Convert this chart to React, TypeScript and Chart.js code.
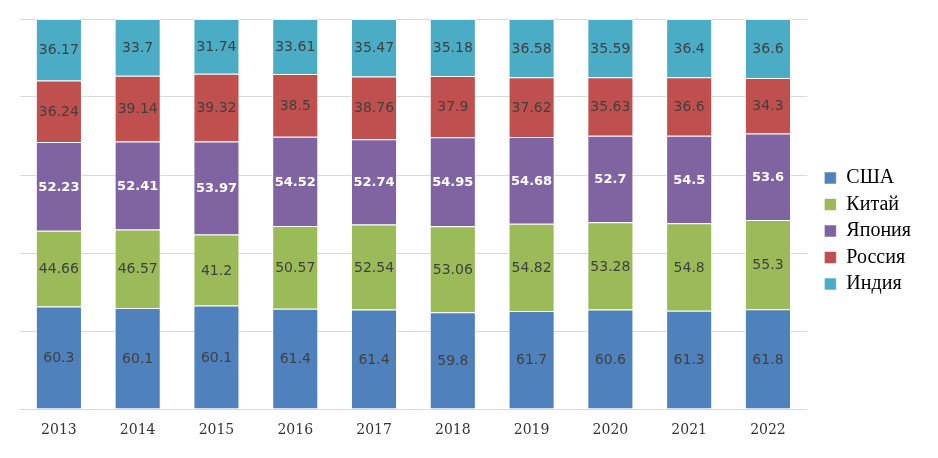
import React, { useEffect, useRef } from "react";
import { Chart, registerables } from "chart.js";

Chart.register(...registerables);

const years = ["2013", "2014", "2015", "2016", "2017", "2018", "2019", "2020", "2021", "2022"];
const seriesNames = ["США", "Китай", "Япония", "Россия", "Индия"];
const usa = [60.3, 60.1, 60.1, 61.4, 61.4, 59.8, 61.7, 60.6, 61.3, 61.8];
const china = [44.66, 46.57, 41.2, 50.57, 52.54, 53.06, 54.82, 53.28, 54.8, 55.3];
const japan = [52.23, 52.41, 53.97, 54.52, 52.74, 54.95, 54.68, 52.7, 54.5, 53.6];
const russia = [36.24, 39.14, 39.32, 38.5, 38.76, 37.9, 37.62, 35.63, 36.6, 34.3];
const india = [36.17, 33.7, 31.74, 33.61, 35.47, 35.18, 36.58, 35.59, 36.4, 36.6];
const colors = ["#4F81BD", "#9BBB59", "#8064A2", "#C0504D", "#4BACC6"];
const yTicks = [0, 20, 40, 60, 80, 100];

const rawSeries = [usa, china, japan, russia, india];

const labelPlugin = {
  id: "segLabels",
  afterDatasetsDraw(chart: any) {
    const ctx = chart.ctx;
    ctx.save();
    ctx.textAlign = "center";
    ctx.textBaseline = "middle";
    chart.data.datasets.forEach((ds: any, di: number) => {
      const meta = chart.getDatasetMeta(di);
      meta.data.forEach((el: any, i: number) => {
        const raw = ds.rawValues[i];
        const cy = (el.y + el.base) / 2;
        if (di === 2) {
          ctx.font = "bold 13px 'DejaVu Sans'";
          ctx.fillStyle = "#ffffff";
        } else {
          ctx.font = "14px 'DejaVu Sans'";
          ctx.fillStyle = "#404040";
        }
        ctx.fillText(String(raw), el.x, cy + 1);
      });
    });
    ctx.restore();
  },
};

export default function App() {
  const ref = useRef<HTMLCanvasElement | null>(null);
  useEffect(() => {
    if (!ref.current) return;
    const totals = years.map((_, i) => rawSeries.reduce((s, arr) => s + arr[i], 0));
    const datasets = rawSeries.map((arr, si) => ({
      label: seriesNames[si],
      data: arr.map((v, i) => (v / totals[i]) * 100),
      rawValues: arr,
      backgroundColor: colors[si],
      borderColor: "rgba(255,255,255,0.55)",
      borderWidth: 1,
      categoryPercentage: 1,
      barPercentage: 0.585,
    }));
    const chart = new Chart(ref.current, {
      type: "bar",
      data: { labels: years, datasets },
      options: {
        animation: false,
        responsive: false,
        layout: { padding: { left: 11.5, top: 11, right: 9, bottom: 7 } },
        plugins: {
          tooltip: { enabled: false },
          legend: {
            position: "right",
            labels: {
              boxWidth: 12,
              boxHeight: 12,
              padding: 6.5,
              color: "#000",
              font: { family: "'Liberation Serif'", size: 20 },
            },
          },
        },
        scales: {
          x: {
            stacked: true,
            grid: { display: false, drawTicks: false },
            border: { display: false },
            ticks: {
              padding: 13,
              color: "#333",
              font: { family: "'DejaVu Serif'", size: 14 },
            },
            afterFit: (s: any) => {
              s.height = 34;
            },
          },
          y: {
            stacked: true,
            min: 0,
            max: 100,
            afterBuildTicks: (s: any) => {
              s.ticks = yTicks.map((v) => ({ value: v }));
            },
            grid: { color: "#d9d9d9", lineWidth: 1, drawTicks: false },
            border: { display: false },
            ticks: { display: false },
            afterFit: (s: any) => {
              s.width = 0;
            },
          },
          y2: {
            position: "right",
            display: true,
            grid: { display: false, drawTicks: false },
            border: { display: false },
            ticks: { display: false },
            afterFit: (s: any) => {
              s.width = 10.5;
            },
          },
        },
      },
      plugins: [labelPlugin],
    } as any);
    return () => chart.destroy();
  }, []);
  return (
    <div style={{ width: 922, height: 442 }}>
      <canvas ref={ref} width={922} height={442} style={{ display: "block" }} />
    </div>
  );
}
